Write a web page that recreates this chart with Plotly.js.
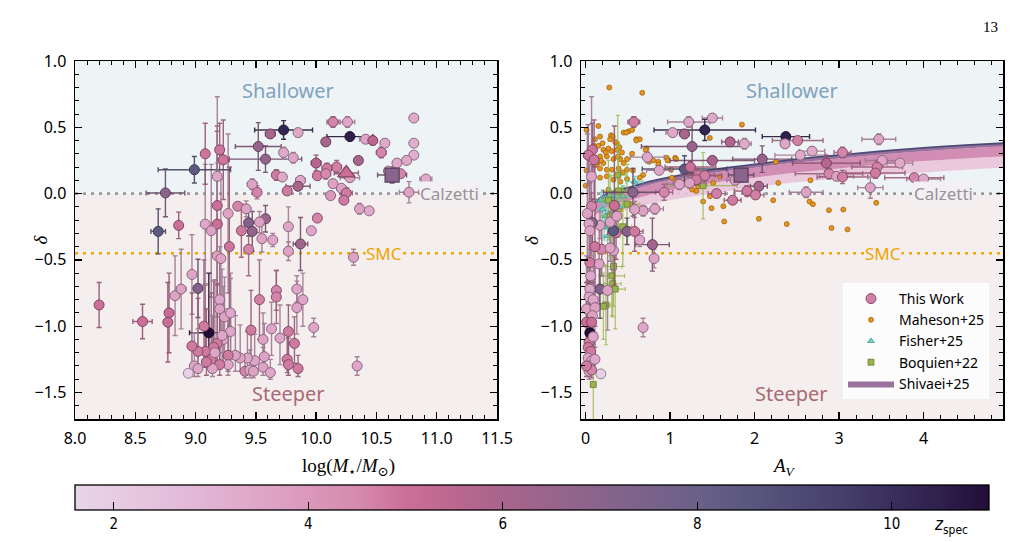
<!DOCTYPE html>
<html><head><meta charset="utf-8">
<script src="https://cdn.plot.ly/plotly-3.0.1.min.js"></script>
<style>html,body{margin:0;padding:0;background:#fff;} #chart{width:1021px;height:542px;}</style>
</head><body><div id="chart"></div>
<script>
// ---------------- DATA: left panel (This Work, stellar mass) ----------------
const massL = [10.81,10.14,10.26,9.73,9.62,9.85,10.28,10.08,10.41,10.47,10.57,10.54,10.81,10.81,10.75,10.67,10.60,10.70,10.91,10.77,
  10.35,10.28,10.17,10.09,10.00,10.01,10.08,10.14,10.21,10.25,10.12,10.23,10.36,10.44,10.01,9.96,10.31,10.34,9.98,
  9.52,9.58,9.73,9.81,9.67,9.72,9.87,9.85,9.76,9.51,9.47,9.35,9.42,9.27,9.44,9.58,9.53,9.38,9.47,9.44,
  9.55,9.64,9.77,9.77,9.87,9.28,9.18,9.18,9.08,9.13,9.08,9.20,9.23,9.18,8.99,8.75,8.69,8.86,
  8.20,8.56,8.78,8.77,8.83,8.88,8.97,9.02,9.11,9.18,9.21,9.20,9.20,9.24,9.29,9.53,9.67,9.67,9.84,9.89,9.84,9.77,
  9.82,9.76,9.77,9.85,9.63,9.70,9.46,9.56,9.57,9.56,9.62,9.49,9.43,9.37,9.33,9.27,9.27,9.41,9.45,9.48,
  9.29,9.23,9.18,9.15,9.08,9.02,8.97,8.99,9.02,8.94,9.13,9.20,9.07,9.14,9.16,9.22,9.09];
const deltaL = [0.57,0.54,0.54,0.48,0.45,0.46,0.43,0.39,0.41,0.40,0.38,0.31,0.38,0.29,0.25,0.23,0.17,0.15,0.11,0.01,
  0.25,0.12,0.20,0.19,0.23,0.135,0.15,0.075,0.04,0.005,-0.015,-0.05,-0.115,-0.13,-0.185,-0.28,-0.48,-1.30,-1.01,
  0.355,0.26,0.31,0.27,0.14,0.125,0.10,0.055,0.02,0.01,0.07,-0.095,-0.115,-0.15,-0.22,-0.19,-0.215,-0.28,-0.285,-0.42,
  -0.34,-0.35,-0.25,-0.435,-0.38,-0.40,-0.09,-0.23,-0.23,-0.28,0.30,0.33,0.255,0.13,0.18,0.005,-0.285,-0.24,
  -0.84,-0.965,-0.90,-0.97,-0.77,-0.72,-0.61,-0.715,-1.05,-0.47,-0.49,-0.80,-0.87,-0.93,-0.90,-0.80,-0.73,-0.78,-0.72,-0.80,-0.86,-1.04,
  -1.13,-1.25,-1.29,-1.32,-1.02,-1.09,-1.03,-1.10,-1.23,-1.31,-1.35,-1.26,-1.24,-1.24,-1.22,-1.22,-1.29,-1.34,-1.33,-1.34,
  -1.04,-1.10,-1.13,-1.16,-1.19,-1.19,-1.15,-1.30,-1.32,-1.355,-1.25,-1.29,-1.00,-1.32,-1.20,-1.07,-1.27];
const zL = [3.3,4.6,3.5,10.3,6.0,3.4,10.5,6.0,3.5,5.5,3.4,4.6,3.2,3.2,3.4,3.4,3.5,4.6,3.3,3.6,
  6.0,3.6,4.7,4.8,5.6,4.8,4.5,3.6,3.6,4.8,4.0,4.8,3.6,3.4,4.6,3.5,3.6,3.5,3.5,
  6.5,6.6,3.4,3.5,4.8,3.4,3.5,6.0,4.8,4.6,3.6,4.6,3.6,3.6,7.2,6.4,3.6,4.8,6.6,4.6,
  3.6,3.5,3.5,3.6,6.3,4.9,5.0,5.0,3.5,3.6,4.9,4.9,4.9,3.5,8.4,7.0,8.4,5.0,
  5.0,5.0,5.1,5.1,3.6,3.6,3.5,7.3,11.0,3.6,3.6,3.5,3.6,3.6,3.5,4.7,4.6,4.6,3.5,3.5,3.6,4.8,
  4.8,4.8,4.8,4.8,3.5,3.5,4.8,3.6,3.6,3.6,3.5,3.5,3.5,3.6,3.6,4.8,3.5,4.6,3.5,3.6,
  3.5,3.5,4.8,4.8,4.8,4.8,4.8,3.5,3.5,1.8,4.8,4.8,4.8,3.5,3.5,3.5,4.8];
const massErrL = [0,0.05,0.06,0.24,0.04,0.03,0.19,0.03,0.05,0.03,0.03,0.04,0,0,0.03,0,0,0.03,0.05,0.08,
  0.03,0.08,0.04,0.04,0.04,0.03,0.04,0.03,0.04,0.05,0,0.03,0.03,0,0.03,0.02,0.02,0.02,0.02,
  0.19,0.30,0.03,0.03,0.03,0.03,0.04,0.10,0.03,0.03,0.04,0,0.03,0,0.03,0.02,0.03,0.03,0.03,0.03,
  0.02,0.02,0.02,0.02,0.06,0,0,0,0,0,0,0.03,0.05,0,0.30,0.16,0.06,0.02,
  0,0.08,0,0,0.03,0.04,0,0.03,0.16,0,0,0,0,0,0,0,0,0,0,0,0,0,
  0,0,0,0,0,0,0,0,0,0,0,0,0,0,0,0,0,0,0,0,
  0,0,0,0,0,0,0,0,0,0,0,0,0,0,0,0,0];
// upper and lower delta errors
const deltaErrUpL = [0,0.04,0.04,0.07,0.03,0.03,0.03,0.03,0.03,0.03,0.03,0.04,0,0,0.03,0,0,0.03,0,0.08,
  0.02,0.03,0.05,0.04,0.06,0.03,0.04,0.03,0.03,0.04,0,0.03,0.04,0,0.03,0.02,0.06,0.07,0.07,
  0.18,0.10,0.04,0.04,0.04,0.03,0.03,0.03,0.03,0.05,0.04,0,0.06,0.6,0.10,0.10,0.08,0.20,0.15,0.20,
  0.10,0.05,0.15,0.07,0.20,0.60,0.60,0.70,0.45,0.50,0.23,0.20,0.30,0.60,0.10,0.18,0.17,0.10,
  0.17,0.13,0.30,0.30,0.30,0.30,0.30,0.22,0.45,0.70,0.60,0.40,0.40,0.30,0.30,0.30,0.15,0.20,0.10,0.20,0.20,0.20,
  0.20,0.20,0.20,0.10,0.20,0.25,0.30,0.20,0.25,0.15,0.10,0.20,0.20,0.25,0.30,0.35,0.35,0.10,0.15,0.10,
  0.40,0.40,0.45,0.50,0.50,0.40,0.40,0.25,0.30,0,0.50,0.40,0.50,0.40,0.55,0.50,0.40];
const deltaErrLoL = [0,0.04,0.04,0.07,0.03,0.03,0.03,0.03,0.03,0.03,0.03,0.04,0,0,0.03,0,0,0.03,0,0.08,
  0.02,0.03,0.05,0.04,0.06,0.03,0.04,0.03,0.03,0.04,0,0.03,0.04,0,0.03,0.02,0.06,0.07,0.07,
  0.18,0.10,0.04,0.04,0.04,0.03,0.03,0.03,0.03,0.05,0.04,0,0.06,0.6,0.10,0.10,0.08,0.20,0.15,0.20,
  0.10,0.05,0.15,0.07,0.20,0.60,0.60,0.70,0.45,0.50,0.23,0.20,0.30,0.60,0.10,0.18,0.17,0.10,
  0.17,0.13,0.30,0.30,0.30,0.30,0.30,0.22,0.20,0.70,0.60,0.40,0.40,0.30,0.30,0.30,0.15,0.20,0.10,0.20,0.20,0.20,
  0.15,0.10,0.08,0.06,0.20,0.20,0.20,0.15,0.10,0.06,0.05,0.10,0.10,0.10,0.12,0.12,0.08,0.05,0.06,0.05,
  0.25,0.20,0.15,0.15,0.12,0.12,0.15,0.08,0.06,0,0.10,0.08,0.25,0.06,0.12,0.20,0.10];
// stacked measurements (left)
const triMass = [10.25], triDelta = [0.155], triZ = [5.0], triMassErr = [0.10], triDeltaErr = [0.04];
const sqMass = [10.63], sqDelta = [0.14], sqZ = [7.0], sqMassErr = [0.12], sqDeltaErr = [0.06];

// ---------------- DATA: right panel (This Work, A_V) ----------------
const avR = [0.57,1.22,1.50,1.41,1.17,1.03,1.26,2.37,2.36,2.51,1.71,1.88,3.47,3.04,2.68,2.54,2.09,1.50,0.73,2.85,
  3.51,3.72,3.45,3.43,2.88,2.97,3.04,3.89,4.00,3.37,2.61,2.05,1.77,1.91,2.01,1.74,1.55,1.17,1.24,1.33,
  1.41,1.31,1.23,1.11,0.87,0.93,0.56,0.82,0.68,0.58,0.79,0.81,0.68,0.64,0.49,0.58,0.36,0.33,0.34,0.29,
  0.17,0.08,0.19,0.11,0.33,0.16,0.05,0.17,0.26,0.05,0.18,0.07,0.08,0.03,0.10,0.07,0.02,0.04,0.05,0.06,
  0.05,0.04,0.09,0.01,0.11,0.08,0.01,0.07,0.04,0.03,0.06,0.03,0.07,0.05,0.04,0.09,0.07,0.11,0.01,0.29,0.37];
const deltaR = [0.54,0.54,0.57,0.48,0.45,0.46,0.355,0.43,0.375,0.40,0.39,0.375,0.41,0.31,0.32,0.29,0.26,0.25,0.275,0.23,
  0.25,0.23,0.20,0.155,0.15,0.13,0.125,0.12,0.11,0.045,0.01,0.055,0.10,0.02,-0.01,-0.05,0.00,0.185,0.20,0.14,
  0.135,0.105,0.08,0.07,0.175,0.01,0.01,-0.115,-0.13,-0.12,-0.385,-0.49,-1.01,-0.35,-0.285,-0.285,-0.295,-0.28,-0.09,-0.215,
  -0.24,-0.22,-0.42,-0.40,-0.43,-0.53,-0.52,-0.72,-0.73,-1.05,-1.36,0.13,0.33,0.29,0.255,-0.095,-0.15,-0.23,-0.28,-0.62,
  -0.72,-0.78,-0.80,-0.87,-0.86,-0.92,-0.97,-0.97,-1.12,-1.16,-1.19,-1.24,-1.26,-1.30,-1.34,-1.08,-1.33,-1.25,-1.30,-0.41,-0.17];
const zR = [4.7,3.5,3.4,10.3,6.0,3.4,6.5,10.5,3.5,4.7,5.8,3.4,3.6,4.6,3.4,3.4,6.6,6.0,3.5,5.6,
  3.5,3.4,4.7,4.8,4.6,3.6,4.7,4.6,3.4,3.6,3.6,6.0,3.6,4.8,4.7,4.8,4.7,8.4,5.0,4.8,
  4.7,4.8,3.6,3.5,3.5,4.6,7.0,3.6,3.6,3.6,6.3,3.6,3.5,3.5,7.2,4.8,4.8,8.4,5.0,3.6,
  3.6,7.0,4.6,4.9,3.6,3.6,4.8,7.3,3.6,11.0,1.8,3.5,4.9,4.9,4.9,4.6,3.6,3.5,3.6,3.5,
  3.5,3.6,3.5,3.6,3.6,3.6,5.0,5.0,4.8,4.8,4.8,3.5,3.6,3.5,3.6,3.5,4.6,3.5,4.8,3.6,3.6];
const avErrR = [0.07,0.25,0.12,0.60,0.05,0.08,0.60,0.28,0.05,0.30,0.10,0.08,0.20,0.10,0.15,0.30,0.35,0.50,0.20,0.40,
  0.20,0.15,0.30,0.35,0.40,0.20,0.30,0.35,0.20,0.15,0.20,0.10,0.10,0.15,0.10,0.10,0.10,0.50,0.30,0.20,
  0.20,0.10,0.20,0.15,0.15,0.10,0.35,0.10,0.10,0.05,0.20,0.05,0.02,0.05,0.10,0.10,0.10,0.05,0.03,0.05,
  0.03,0.03,0.03,0.03,0.03,0.02,0.02,0.02,0.02,0.02,0,0.02,0.02,0.02,0.02,0.02,0.02,0.02,0.02,0.02,
  0.02,0.02,0.02,0.02,0.02,0.02,0.02,0.02,0.02,0.02,0.02,0.02,0.02,0.02,0.02,0.02,0.02,0.02,0.02,0.03,0.05];
const deltaErrUpR = [0.04,0.04,0.03,0.08,0.03,0.03,0.18,0.03,0.03,0.03,0.03,0.04,0.04,0.04,0.03,0.03,0.10,0.03,0.04,0.06,
  0.03,0.03,0.05,0.04,0.04,0.03,0.05,0,0,0.08,0.04,0.03,0.03,0.04,0.03,0.03,0.03,0.10,0.04,0.05,
  0.04,0.04,0.04,0.04,0.03,0.06,0.18,0.04,0.04,0.06,0.20,0.07,0.07,0.05,0.10,0.15,0.20,0.17,0.60,0.08,
  0.10,0.18,0.20,0.60,0.15,0.30,0.60,0.22,0.30,0.45,0,0.60,0.20,0.23,0.30,0.10,0.60,0.45,0.50,0.30,
  0.30,0.30,0.40,0.40,0.30,0.30,0.30,0.30,0.45,0.50,0.50,0.20,0.25,0.30,0.10,0.40,0.10,0.20,0.30,0.10,0.08];
const deltaErrLoR = [0.04,0.04,0.03,0.08,0.03,0.03,0.18,0.03,0.03,0.03,0.03,0.04,0.04,0.04,0.03,0.03,0.10,0.03,0.04,0.06,
  0.03,0.03,0.05,0.04,0.04,0.03,0.05,0,0,0.08,0.04,0.03,0.03,0.04,0.03,0.03,0.03,0.10,0.04,0.05,
  0.04,0.04,0.04,0.04,0.03,0.06,0.18,0.04,0.04,0.06,0.20,0.07,0.07,0.05,0.10,0.15,0.20,0.17,0.60,0.08,
  0.10,0.18,0.20,0.60,0.15,0.30,0.60,0.22,0.30,0.20,0,0.60,0.20,0.23,0.30,0.10,0.60,0.45,0.50,0.30,
  0.30,0.30,0.40,0.40,0.30,0.30,0.30,0.30,0.15,0.12,0.12,0.10,0.10,0.08,0.06,0.20,0.06,0.10,0.08,0.10,0.08];
const sqAv = [1.84], sqDeltaR = [0.14], sqZR = [7.0], sqAvErr = [0.15], sqDeltaErrR = [0.05];

// ---------------- DATA: literature ----------------
const mahAv = [0.28,0.67,1.85,1.47,0.15,0.01,0.17,0.30,0.32,0.45,0.51,0.55,0.60,0.64,0.72,0.15,0.21,0.27,0.31,0.37,
  0.43,0.17,0.25,0.33,0.41,0.49,0.17,0.25,0.31,0.39,0.49,0.56,0.01,0.00,0.17,0.25,0.33,0.41,0.49,0.68,
  0.64,0.80,0.86,0.96,1.06,1.02,1.08,1.16,1.31,1.39,1.47,1.49,1.63,1.64,2.05,2.22,2.28,2.25,2.38,2.65,
  2.69,2.66,2.88,2.91,3.05,3.10,3.44,1.51,1.59,1.33,1.26,0.53,0.41,0.27,0.29,0.37,0.11,0.07,0.45,0.14,0.21,
  0.24,0.38,0.18,0.44,0.48,0.60,0.71,0.75,0.86,0.97,1.01,1.07,0.10,0.20,0.35,0.40,0.55,0.12];
const mahDelta = [0.80,0.76,0.52,0.42,0.51,0.48,0.43,0.44,0.43,0.46,0.47,0.48,0.41,0.41,0.34,0.36,0.33,0.34,0.32,0.33,
  0.31,0.28,0.28,0.26,0.26,0.26,0.19,0.18,0.18,0.19,0.18,0.175,0.175,0.06,0.12,0.13,0.105,0.09,0.11,0.14,
  0.12,0.25,0.24,0.27,0.27,0.12,0.09,0.08,0.02,-0.06,-0.02,-0.11,-0.095,-0.21,-0.19,-0.05,0.08,0.24,-0.23,-0.06,
  -0.08,0.10,-0.125,-0.26,-0.12,-0.27,-0.07,0.08,0.13,0.055,0.03,-0.08,-0.12,0.03,0.41,0.38,0.41,0.33,0.23,0.23,0.23,
  0.31,0.28,0.25,0.16,0.46,0.40,0.33,0.24,0.22,0.25,0.18,0.26,0.36,0.38,0.39,0.35,0.30,0.22];
const fisAv = [0.58,0.44,0.40,0.32,0.28,0.35,0.20,0.24,0.30,0.26,0.30,0.22,0.18];
const fisDelta = [0.09,-0.02,-0.10,-0.07,-0.02,-0.05,-0.12,-0.17,-0.15,-0.32,-0.42,-0.25,-0.05];
const fisAvErr = [0.10,0.08,0.06,0.05,0.05,0.05,0.05,0.04,0.05,0.05,0.04,0.04,0.05];
const fisDeltaErr = [0.04,0.08,0.08,0.06,0.06,0.08,0.10,0.10,0.08,0.12,0.15,0.10,0.06];
const boqAv = [0.09,0.31,0.32,0.35,0.24,0.21,0.38,0.39,0.49,1.39,0.29,0.27,0.33,0.44];
const boqDelta = [-1.44,-0.62,-0.68,-0.72,-0.84,-0.85,0.14,0.02,-0.08,0.06,-0.17,-0.05,-0.55,-0.25];
const boqAvErr = [0.03,0.15,0.10,0.12,0.05,0.05,0.10,0.20,0.15,0.40,0.10,0.10,0.10,0.10];
const boqDeltaErr = [0.28,0.30,0.25,0.30,0.30,0.25,0.45,0.35,0.30,0.25,0.30,0.30,0.30,0.30];
// Shivaei+25 band, read at these A_V values (top edge, two inner shades, bottom edge)
const shivAv   = [0.10,0.20,0.35,0.50,0.75,1.00,1.50,2.00,2.50,3.00,3.50,4.00,4.50,4.95];
const shivTop  = [-0.07,-0.02,0.02,0.045,0.09,0.125,0.18,0.22,0.26,0.29,0.32,0.345,0.365,0.38];
const shivMid1 = [-0.095,-0.045,-0.005,0.02,0.065,0.10,0.155,0.195,0.235,0.265,0.295,0.32,0.34,0.355];
const shivMid2 = [-0.17,-0.12,-0.08,-0.055,-0.01,0.025,0.08,0.12,0.16,0.19,0.22,0.245,0.265,0.28];
const shivBot  = [-0.25,-0.19,-0.15,-0.12,-0.08,-0.05,0.0,0.05,0.085,0.115,0.14,0.16,0.18,0.195];
const calzettiDelta = 0.0, smcDelta = -0.45;
const cbMajorTicks = [2,4,6,8,10];
const cbMinorTicks = [2.5,3,3.5,4.5,5,5.5,6.5,7,7.5,8.5,9,9.5,10.5];

// ---------------- STYLE ----------------
const W = 1021, H = 542;
const CMIN = 1.6, CMAX = 11.0;
const CB_LEFT = 75, CB_RIGHT = 989, CB_TOP = 485, CB_THICK = 25;
const cs = [[0,'#e8d5e8'],[0.096,'#e4c0dc'],[0.202,'#dea6c8'],[0.309,'#d68aaf'],[0.362,'#cb6f98'],[0.415,'#bb6790'],
  [0.468,'#a8658c'],[0.574,'#89648c'],[0.681,'#6a6088'],[0.734,'#5a5880'],[0.84,'#463e6c'],[0.947,'#2e1f4c'],[1,'#230c38']];
function h2r(h){return [parseInt(h.slice(1,3),16),parseInt(h.slice(3,5),16),parseInt(h.slice(5,7),16)];}
function colorAt(z){
  let t = Math.max(0, Math.min(1, (z-CMIN)/(CMAX-CMIN)));
  for (let i=1;i<cs.length;i++){
    if (t <= cs[i][0]) {
      const a=h2r(cs[i-1][1]), b=h2r(cs[i][1]); const f=(t-cs[i-1][0])/(cs[i][0]-cs[i-1][0]);
      return a.map((v,k)=>v+(b[k]-v)*f);
    }
  }
  return h2r(cs[cs.length-1][1]);
}
function shade(z,f,a){const c=colorAt(z);return `rgba(${Math.round(c[0]*f)},${Math.round(c[1]*f)},${Math.round(c[2]*f)},${a})`;}
const errCol = z => shade(z,0.72,0.9);
const edgeCol = z => shade(z,0.62,1);

function errTraces(xs, ys, zs, xe, yeUp, yeLo, xa, ya){
  return xs.map((x,i)=>({type:'scatter', mode:'markers', x:[x], y:[ys[i]], xaxis:xa, yaxis:ya,
    marker:{size:1, color:'rgba(0,0,0,0)'}, showlegend:false, hoverinfo:'skip',
    error_x:{type:'data', array:[xe[i]], visible: xe[i]>0, color:errCol(zs[i]), thickness:1.4, width:2.5},
    error_y:{type:'data', symmetric:false, array:[yeUp[i]], arrayminus:[yeLo[i]], visible: yeUp[i]>0, color:errCol(zs[i]), thickness:1.4, width:2.5}}));
}

const traces = [];
// Shivaei band (right)
traces.push({type:'scatter', mode:'lines', x:shivAv, y:shivBot, xaxis:'x2', yaxis:'y2', line:{width:0, shape:'spline'}, showlegend:false, hoverinfo:'skip'});
traces.push({type:'scatter', mode:'lines', x:shivAv, y:shivMid2, xaxis:'x2', yaxis:'y2', line:{width:0, shape:'spline'}, fill:'tonexty', fillcolor:'rgba(234,196,217,0.9)', showlegend:false, hoverinfo:'skip'});
traces.push({type:'scatter', mode:'lines', x:shivAv, y:shivMid1, xaxis:'x2', yaxis:'y2', line:{width:0, shape:'spline'}, fill:'tonexty', fillcolor:'rgba(206,130,174,0.9)', showlegend:false, hoverinfo:'skip'});
traces.push({type:'scatter', mode:'lines', x:shivAv, y:shivTop, xaxis:'x2', yaxis:'y2', line:{width:0, shape:'spline'}, fill:'tonexty', fillcolor:'rgba(150,106,152,0.95)', name:'Shivaei+25', showlegend:true, legendrank:5, hoverinfo:'skip'});
traces.push({type:'scatter', mode:'lines', x:shivAv, y:shivTop, xaxis:'x2', yaxis:'y2', line:{width:1.8, color:'#4c4a78', shape:'spline'}, showlegend:false, hoverinfo:'skip'});
// literature
traces.push({type:'scatter', mode:'markers', x:mahAv, y:mahDelta, xaxis:'x2', yaxis:'y2', name:'Maheson+25', legendrank:2,
  marker:{size:5, color:'#e4961c', line:{color:'#9a5c0c', width:0.7}}});
traces.push({type:'scatter', mode:'markers', x:fisAv, y:fisDelta, xaxis:'x2', yaxis:'y2', name:'Fisher+25', legendrank:3,
  marker:{size:6, symbol:'triangle-up', color:'#70d4c4', line:{color:'#2f8f84', width:0.7}},
  error_x:{type:'data', array:fisAvErr, color:'rgba(90,205,190,0.8)', thickness:1.2, width:2},
  error_y:{type:'data', array:fisDeltaErr, color:'rgba(90,205,190,0.8)', thickness:1.2, width:2}});
traces.push({type:'scatter', mode:'markers', x:boqAv, y:boqDelta, xaxis:'x2', yaxis:'y2', name:'Boquien+22', legendrank:4,
  marker:{size:6, symbol:'square', color:'#98b44a', line:{color:'#5e7624', width:0.7}},
  error_x:{type:'data', array:boqAvErr, color:'rgba(150,180,70,0.8)', thickness:1.2, width:2},
  error_y:{type:'data', array:boqDeltaErr, color:'rgba(150,180,70,0.8)', thickness:1.2, width:2}});
// error bars for This Work
traces.push(...errTraces(massL, deltaL, zL, massErrL, deltaErrUpL, deltaErrLoL, 'x', 'y'));
traces.push(...errTraces(avR, deltaR, zR, avErrR, deltaErrUpR, deltaErrLoR, 'x2', 'y2'));
traces.push(...errTraces(triMass, triDelta, triZ, triMassErr, triDeltaErr, triDeltaErr, 'x', 'y'));
traces.push(...errTraces(sqMass, sqDelta, sqZ, sqMassErr, sqDeltaErr, sqDeltaErr, 'x', 'y'));
traces.push(...errTraces(sqAv, sqDeltaR, sqZR, sqAvErr, sqDeltaErrR, sqDeltaErrR, 'x2', 'y2'));

const cbar = {orientation:'h', x:(CB_LEFT+CB_RIGHT)/2/W, xanchor:'center', y:1-CB_TOP/H, yanchor:'top', len:(CB_RIGHT-CB_LEFT)/W, lenmode:'fraction',
  thickness:CB_THICK, thicknessmode:'pixels', outlinewidth:1.3, outlinecolor:'#000', xpad:0, ypad:0,
  ticks:'inside', ticklen:8, tickwidth:1.2, tickcolor:'#000', tickvals:cbMajorTicks, ticktext:cbMajorTicks.map(String),
  tickfont:{family:'DejaVu Sans Condensed, Liberation Sans Narrow, sans-serif', size:15, color:'#000'}};

traces.push({type:'scatter', mode:'markers', x:massL, y:deltaL, xaxis:'x', yaxis:'y', showlegend:false, hoverinfo:'skip',
  marker:{size:10, color:zL, colorscale:cs, cmin:CMIN, cmax:CMAX, showscale:true, colorbar:cbar,
    line:{color:zL.map(edgeCol), width:1}}});
traces.push({type:'scatter', mode:'markers', x:triMass, y:triDelta, xaxis:'x', yaxis:'y', showlegend:false, hoverinfo:'skip',
  marker:{size:15, symbol:'triangle-up', color:triZ, colorscale:cs, cmin:CMIN, cmax:CMAX, line:{color:triZ.map(edgeCol), width:1.2}}});
traces.push({type:'scatter', mode:'markers', x:sqMass, y:sqDelta, xaxis:'x', yaxis:'y', showlegend:false, hoverinfo:'skip',
  marker:{size:14, symbol:'square', color:sqZ, colorscale:cs, cmin:CMIN, cmax:CMAX, line:{color:sqZ.map(edgeCol), width:1.2}}});
traces.push({type:'scatter', mode:'markers', x:avR, y:deltaR, xaxis:'x2', yaxis:'y2', name:'This Work', legendrank:1, hoverinfo:'skip',
  marker:{size:10, color:zR, colorscale:cs, cmin:CMIN, cmax:CMAX, showscale:false, line:{color:zR.map(edgeCol), width:1}}});
traces.push({type:'scatter', mode:'markers', x:sqAv, y:sqDeltaR, xaxis:'x2', yaxis:'y2', showlegend:false, hoverinfo:'skip',
  marker:{size:14, symbol:'square', color:sqZR, colorscale:cs, cmin:CMIN, cmax:CMAX, line:{color:sqZR.map(edgeCol), width:1.2}}});

const tickFont = {family:'Noto Sans, sans-serif', size:16, color:'#000'};
function ax(extra){
  return Object.assign({showline:true, linecolor:'#000', linewidth:1.5, mirror:'allticks', ticks:'inside', ticklen:7,
    tickwidth:1.3, tickcolor:'#000', showgrid:false, zeroline:false, tickfont:tickFont, automargin:false, fixedrange:true,
    ticklabelstandoff:4}, extra);
}
const yDom = [1-419/H, 1-61/H];
const layout = {
  width:W, height:H, margin:{l:0,r:0,t:0,b:0}, paper_bgcolor:'#fff', plot_bgcolor:'rgba(0,0,0,0)',
  xaxis: ax({domain:[75/W,497/W], anchor:'y', range:[8.0,11.5], tick0:8, dtick:0.5, tickformat:'.1f',
    minor:{dtick:0.1, ticks:'inside', ticklen:4, tickwidth:1, tickcolor:'#000', showgrid:false}}),
  yaxis: ax({domain:yDom, anchor:'x', range:[-1.7,1.0], tick0:0, dtick:0.5, tickformat:'.1f',
    minor:{dtick:0.1, ticks:'inside', ticklen:4, tickwidth:1, tickcolor:'#000', showgrid:false}}),
  xaxis2: ax({domain:[581/W,1003/W], anchor:'y2', range:[-0.055,4.94], tick0:0, dtick:1, tickformat:'d',
    minor:{dtick:0.2, ticks:'inside', ticklen:4, tickwidth:1, tickcolor:'#000', showgrid:false}}),
  yaxis2: ax({domain:yDom, anchor:'x2', range:[-1.7,1.0], tick0:0, dtick:0.5, tickformat:'.1f',
    minor:{dtick:0.1, ticks:'inside', ticklen:4, tickwidth:1, tickcolor:'#000', showgrid:false}}),
  showlegend:true,
  legend:{x:843/W, y:1-283/H, xanchor:'left', yanchor:'top', bgcolor:'rgba(255,255,255,0.8)', borderwidth:0,
    font:{family:'Noto Sans, sans-serif', size:14, color:'#000'}, itemwidth:46, traceorder:'normal'},
  shapes:[], annotations:[]
};
[['x','y'],['x2','y2']].forEach(([xa,ya])=>{
  layout.shapes.push({type:'rect', xref:xa+' domain', yref:ya, x0:0, x1:1, y0:0, y1:1.0, fillcolor:'#eef3f6', line:{width:0}, layer:'below'});
  layout.shapes.push({type:'rect', xref:xa+' domain', yref:ya, x0:0, x1:1, y0:-1.7, y1:0, fillcolor:'#f5eeef', line:{width:0}, layer:'below'});
  layout.shapes.push({type:'line', xref:xa+' domain', yref:ya, x0:0, x1:1, y0:calzettiDelta, y1:calzettiDelta, line:{color:'#9c9a9e', width:2.6, dash:'3px,5px'}, layer:'below'});
  layout.shapes.push({type:'line', xref:xa+' domain', yref:ya, x0:0, x1:1, y0:smcDelta, y1:smcDelta, line:{color:'#f0a800', width:2.6, dash:'3px,5px'}, layer:'below'});
});
// colorbar minor ticks (decoration, placed with the colorbar's own value-to-pixel mapping)
const cbPx = z => (CB_LEFT + (z-CMIN)/(CMAX-CMIN)*(CB_RIGHT-CB_LEFT))/W;
cbMinorTicks.forEach(z=>{
  layout.shapes.push({type:'line', xref:'paper', yref:'paper', x0:cbPx(z), x1:cbPx(z),
    y0:1-(CB_TOP+CB_THICK)/H, y1:1-(CB_TOP+CB_THICK-4)/H, line:{color:'#000', width:1}});
});
const txt = (xa,ya,x,y,text,color,size,bg)=>({xref:xa, yref:ya, x, y, text, showarrow:false,
  font:{family:'Noto Sans, sans-serif', size, color}, bgcolor:bg||'rgba(0,0,0,0)', borderpad:0});
layout.annotations.push(txt('x','y',9.77,0.78,'Shallower','#7ea3c0',20));
layout.annotations.push(txt('x','y',9.77,-1.51,'Steeper','#a86a72',20));
layout.annotations.push(txt('x','y',11.11,calzettiDelta,'Calzetti','#9a9098',17,'#f2f0f2'));
layout.annotations.push(txt('x','y',10.56,smcDelta,'SMC','#f0a500',17,'#f5eeef'));
layout.annotations.push(txt('x2','y2',2.44,0.78,'Shallower','#7ea3c0',20));
layout.annotations.push(txt('x2','y2',2.44,-1.51,'Steeper','#a86a72',20));
layout.annotations.push(txt('x2','y2',4.23,calzettiDelta,'Calzetti','#9a9098',17,'#f2f0f2'));
layout.annotations.push(txt('x2','y2',3.52,smcDelta,'SMC','#f0a500',17,'#f5eeef'));
const serif = {family:'Liberation Serif, DejaVu Serif, serif', size:19, color:'#000'};
layout.annotations.push({xref:'paper', yref:'paper', x:27/W, y:1-240/H, text:'<i>δ</i>', textangle:-90, showarrow:false, font:serif});
layout.annotations.push({xref:'paper', yref:'paper', x:531/W, y:1-240/H, text:'<i>δ</i>', textangle:-90, showarrow:false, font:serif});
layout.annotations.push({xref:'paper', yref:'paper', x:300/W, y:1-453/H, yanchor:'top', text:'log(<i>M</i><sub>⋆</sub>/<i>M</i><sub>⊙</sub>)', showarrow:false, font:serif});
layout.annotations.push({xref:'paper', yref:'paper', x:798/W, y:1-453/H, yanchor:'top', text:'<i>A</i><sub><i>V</i></sub>', showarrow:false, font:serif});
layout.annotations.push({xref:'paper', yref:'paper', x:1000/W, y:1-17/H, text:'13', showarrow:false, font:{family:'Liberation Serif, serif', size:15, color:'#000'}});
layout.annotations.push({xref:'paper', yref:'paper', x:932/W, y:1-512/H, xanchor:'left', yanchor:'top', text:'<i>z</i><sub>spec</sub>', showarrow:false, font:{family:'DejaVu Sans Condensed, DejaVu Sans, sans-serif', size:17, color:'#000'}});

Plotly.newPlot('chart', traces, layout, {displayModeBar:false, staticPlot:true});
</script></body></html>
